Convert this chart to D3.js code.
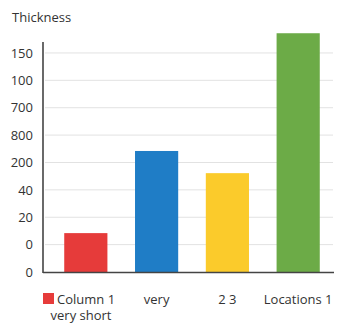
<!DOCTYPE html>
<html>
<head>
<meta charset="utf-8">
<script src="https://cdn.jsdelivr.net/npm/d3@7"></script>
<style>
  html, body { margin: 0; padding: 0; background: #fff; }
  svg { display: block; font-family: "Open Sans", "Noto Sans", sans-serif; }
</style>
</head>
<body>
<svg id="chart" width="339" height="325"></svg>
<script>
// Categories along the x axis (first one carries a colour key and wraps)
const categories = ["Column 1", "very", "2 3", "Locations 1"];
const firstSubLabel = "very short";
// Bar heights, in units of the evenly spaced y-axis tick slots
const values = [1.42, 4.42, 3.61, 8.72];
// Tick labels on the y axis, bottom to top
const tickLabels = ["0", "0", "20", "40", "200", "800", "700", "100", "150"];
const colors = ["#e63b3a", "#1f7dc6", "#fbcb2b", "#6cab47"];
const yTitle = "Thickness";

const svg = d3.select("#chart");

const axisX = 43, axisTop = 42, baseY = 272, gridRight = 333;

const y = d3.scaleLinear().domain([0, 8.4]).range([baseY, axisTop]);
const x = d3.scaleBand().domain(categories).range([43, 341])
  .paddingInner(0.39).paddingOuter(0.3);

// Horizontal gridlines
svg.append("g").selectAll("line")
  .data(d3.range(1, tickLabels.length))
  .join("line")
  .attr("x1", axisX + 2).attr("x2", gridRight)
  .attr("y1", d => y(d)).attr("y2", d => y(d))
  .attr("stroke", "#e2e2e2").attr("stroke-width", 1);

// Y axis with its tick labels
const yAxis = d3.axisLeft(y)
  .tickValues(d3.range(tickLabels.length))
  .tickFormat(i => tickLabels[i])
  .tickSize(0).tickPadding(10);
const gy = svg.append("g").attr("transform", `translate(${axisX},0)`).call(yAxis);
gy.select(".domain").remove();
gy.selectAll("text").attr("font-size", 13).attr("fill", "#333")
  .attr("font-family", "\"Open Sans\", sans-serif");

// Bars
svg.append("g").selectAll("rect")
  .data(categories)
  .join("rect")
  .attr("x", d => x(d))
  .attr("width", x.bandwidth())
  .attr("y", (d, i) => y(values[i]))
  .attr("height", (d, i) => baseY - y(values[i]))
  .attr("fill", (d, i) => colors[i]);

// Axis lines
svg.append("line").attr("x1", axisX).attr("x2", axisX)
  .attr("y1", axisTop).attr("y2", baseY + 1)
  .attr("stroke", "#444").attr("stroke-width", 1.6);
svg.append("line").attr("x1", axisX).attr("x2", gridRight + 1)
  .attr("y1", baseY + 0.5).attr("y2", baseY + 0.5)
  .attr("stroke", "#444").attr("stroke-width", 1.6);

// Y axis title
svg.append("text").attr("x", 12).attr("y", 22)
  .attr("font-size", 13).attr("fill", "#333").text(yTitle);

// Category labels
const labels = svg.append("g").attr("font-size", 13).attr("fill", "#333");
categories.forEach((c, i) => {
  const cx = x(c) + x.bandwidth() / 2;
  if (i === 0) {
    labels.append("rect").attr("x", 43).attr("y", 293)
      .attr("width", 11).attr("height", 11).attr("fill", colors[0]);
    labels.append("text").attr("x", 57).attr("y", 303.5).text(c);
    labels.append("text").attr("x", 81).attr("y", 320)
      .attr("text-anchor", "middle").text(firstSubLabel);
  } else {
    labels.append("text").attr("x", cx).attr("y", 303.5)
      .attr("text-anchor", "middle").text(c);
  }
});
</script>
</body>
</html>
